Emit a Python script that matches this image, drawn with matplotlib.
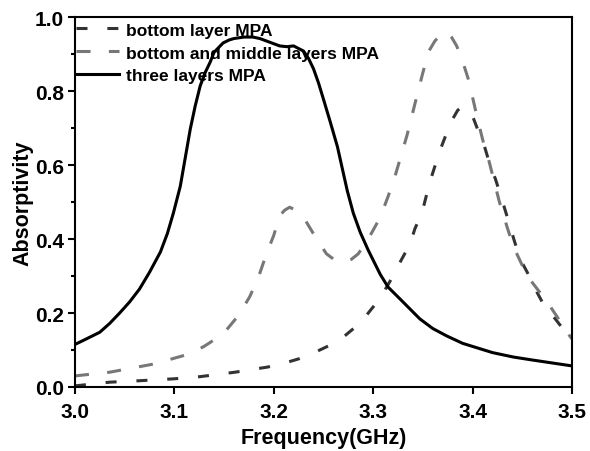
import matplotlib
matplotlib.use("Agg")
import matplotlib.pyplot as plt
from matplotlib.ticker import MultipleLocator

plt.rcParams["font.family"] = ["Liberation Sans", "DejaVu Sans"]
plt.rcParams["font.weight"] = "bold"

# ==== data ====
freq_bottom = [3.000, 3.035, 3.065, 3.099, 3.126, 3.161, 3.194, 3.210, 3.225, 3.240,
               3.255, 3.270, 3.282, 3.293, 3.304, 3.312, 3.320, 3.328, 3.337, 3.342,
               3.349, 3.357, 3.362, 3.367, 3.373, 3.379, 3.385, 3.389, 3.394, 3.400,
               3.406, 3.412, 3.417, 3.423, 3.428, 3.433, 3.442, 3.448, 3.455, 3.462,
               3.470, 3.480, 3.491, 3.500]
abs_bottom = [0.003, 0.013, 0.017, 0.022, 0.028, 0.040, 0.054, 0.064, 0.076, 0.092,
              0.111, 0.135, 0.162, 0.193, 0.230, 0.263, 0.300, 0.342, 0.386, 0.428,
              0.470, 0.554, 0.596, 0.638, 0.680, 0.720, 0.748, 0.757, 0.750, 0.732,
              0.690, 0.650, 0.605, 0.562, 0.520, 0.476, 0.395, 0.345, 0.310, 0.270,
              0.230, 0.195, 0.157, 0.135]

freq_middle = [3.000, 3.035, 3.079, 3.116, 3.130, 3.149, 3.165, 3.176, 3.185, 3.192,
               3.200, 3.206, 3.211, 3.216, 3.222, 3.231, 3.242, 3.253, 3.262, 3.270,
               3.278, 3.285, 3.295, 3.307, 3.315, 3.322, 3.334, 3.344, 3.350, 3.356,
               3.362, 3.367, 3.371, 3.375, 3.379, 3.384, 3.390, 3.396, 3.405, 3.410,
               3.416, 3.427, 3.435, 3.441, 3.455, 3.465, 3.475, 3.485, 3.493, 3.500]
abs_middle = [0.030, 0.040, 0.062, 0.090, 0.110, 0.143, 0.195, 0.245, 0.300, 0.355,
              0.410, 0.463, 0.478, 0.486, 0.478, 0.454, 0.405, 0.360, 0.342, 0.338,
              0.345, 0.360, 0.400, 0.458, 0.515, 0.570, 0.680, 0.787, 0.850, 0.908,
              0.935, 0.950, 0.958, 0.958, 0.945, 0.922, 0.880, 0.830, 0.724, 0.670,
              0.616, 0.500, 0.430, 0.380, 0.300, 0.265, 0.230, 0.190, 0.155, 0.130]

freq_three = [3.000, 3.010, 3.025, 3.035, 3.045, 3.055, 3.065, 3.075, 3.086, 3.093,
              3.099, 3.106, 3.111, 3.116, 3.121, 3.126, 3.131, 3.136, 3.140, 3.149,
              3.155, 3.160, 3.170, 3.179, 3.186, 3.193, 3.206, 3.213, 3.220, 3.230,
              3.235, 3.240, 3.245, 3.250, 3.257, 3.264, 3.274, 3.280, 3.287, 3.295,
              3.307, 3.315, 3.327, 3.347, 3.360, 3.374, 3.390, 3.408, 3.420, 3.441,
              3.460, 3.475, 3.500]
abs_three = [0.115, 0.128, 0.148, 0.172, 0.200, 0.230, 0.265, 0.310, 0.365, 0.415,
             0.470, 0.543, 0.620, 0.697, 0.760, 0.814, 0.850, 0.878, 0.905, 0.930,
             0.938, 0.942, 0.946, 0.946, 0.942, 0.935, 0.922, 0.920, 0.922, 0.908,
             0.888, 0.860, 0.822, 0.778, 0.715, 0.650, 0.530, 0.470, 0.418, 0.370,
             0.305, 0.270, 0.238, 0.184, 0.158, 0.138, 0.118, 0.103, 0.093, 0.081,
             0.073, 0.067, 0.057]

labels = ["bottom layer MPA", "bottom and middle layers MPA", "three layers MPA"]

# ==== plot ====
fig = plt.figure(figsize=(5.9, 4.52), dpi=100)
ax = fig.add_axes([0.127, 0.1416, 0.8425, 0.8184])

ax.plot(freq_bottom, abs_bottom, color="#333333", lw=2.2, dashes=(3.6, 6.5), label=labels[0])
ax.plot(freq_middle, abs_middle, color="#777777", lw=2.2, dashes=(4.6, 6.0), label=labels[1])
ax.plot(freq_three, abs_three, color="black", lw=2.2, label=labels[2])

ax.set_xlim(3.0, 3.5)
ax.set_ylim(0.0, 1.0)
ax.xaxis.set_major_locator(MultipleLocator(0.1))
ax.yaxis.set_major_locator(MultipleLocator(0.2))
ax.yaxis.set_minor_locator(MultipleLocator(0.1))
ax.tick_params(which="both", direction="out", width=1.5, labelsize=15)
ax.tick_params(axis="x", pad=6)
ax.tick_params(axis="y", pad=3)
ax.tick_params(which="major", length=5)
ax.tick_params(which="minor", length=3)
for s in ax.spines.values():
    s.set_linewidth(1.5)

ax.set_xlabel("Frequency(GHz)", fontsize=15.5, fontweight="bold", labelpad=4)
ax.set_ylabel("Absorptivity", fontsize=15.5, fontweight="bold", labelpad=1)

ax.legend(loc="upper left", bbox_to_anchor=(0.0, 0.988), frameon=False, fontsize=12.5,
          handlelength=2.5, handletextpad=0.4, labelspacing=0.45, borderaxespad=0.0,
          borderpad=0.05)

fig.savefig("out.png", dpi=100)
